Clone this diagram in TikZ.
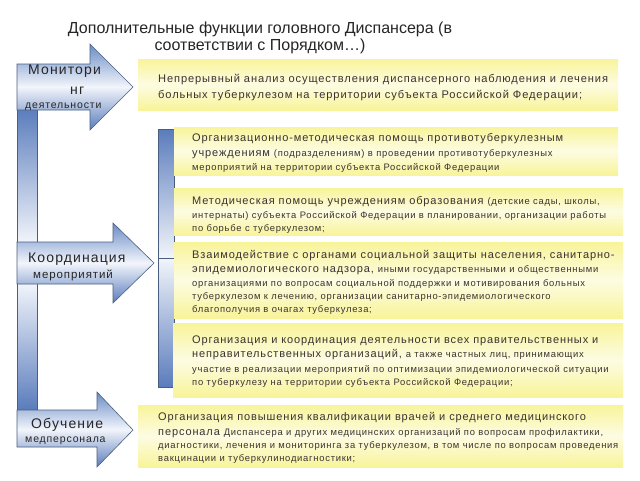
\documentclass[tikz,border=0pt]{standalone}
\usepackage{fontspec}
\setmainfont{Liberation Sans}
\newfontfamily\trk[LetterSpace=8]{Liberation Sans}
\definecolor{txt}{HTML}{3A3232}
\definecolor{ttl}{HTML}{262626}
\definecolor{ablue}{HTML}{6A8CC6}
\definecolor{ablue2}{HTML}{5A7CBC}
\definecolor{alight}{HTML}{F2F5FB}
\definecolor{aedge}{HTML}{4A5F80}
\definecolor{ybox}{HTML}{F8F49A}
\definecolor{ylight}{HTML}{FDFCE2}
\newcommand\fL{\trk\fontsize{11}{13}\selectfont}
\newcommand\fM{\trk\fontsize{11.1}{13}\selectfont}
\newcommand\fS{\trk\fontsize{9.4}{11}\selectfont}
\begin{document}
\begin{tikzpicture}[x=1pt,y=-1pt,
  ln/.style={anchor=base west,inner sep=0pt,text=txt},
  arrtxt/.style={anchor=base west,inner sep=0pt,text=ttl},
  ybar/.style={top color=ybox,bottom color=ybox,middle color=ylight,draw=none},
  arr/.style={top color=ablue,bottom color=ablue2,middle color=alight,draw=aedge,line width=0.6pt},
  barup/.style={top color=ablue2,bottom color=alight,draw=aedge,line width=0.5pt},
  bardn/.style={top color=alight,bottom color=ablue2,draw=aedge,line width=0.5pt}]
\useasboundingbox (0,0) rectangle (640,480);
\fill[white] (0,0) rectangle (640,480);
% title
\node[anchor=base,inner sep=0pt,text=ttl,font=\fontsize{16}{18}\selectfont] (t1) at (260,33) {Дополнительные функции головного Диспансера (в};
\node[anchor=base,inner sep=0pt,text=ttl,font=\fontsize{16}{18}\selectfont] (t2) at (260,50) {соответствии с Порядком…)};
% left bars
\shade[barup] (17,108) rectangle (37,243);
\shade[bardn] (17,283) rectangle (37,410);
% right bars
\shade[barup] (158,129) rectangle (174,258);
\shade[bardn] (158,258) rectangle (174,387);
% yellow boxes
\shade[ybar] (138,59) rectangle (618,110);
\shade[ybar] (174,127) rectangle (618,175);
\shade[ybar] (174,188) rectangle (623,235);
\shade[ybar] (174,242) rectangle (623,318);
\shade[ybar] (173,323) rectangle (623,397);
\shade[ybar] (138,405) rectangle (623,467);
% arrows
\shadedraw[arr] (17,64) -- (90,64) -- (90,44) -- (133,87) -- (90,130) -- (90,110) -- (17,110) -- cycle;
\shadedraw[arr] (17,242) -- (113,242) -- (113,223) -- (154,263) -- (113,303) -- (113,284) -- (17,284) -- cycle;
\shadedraw[arr] (17,410) -- (97,410) -- (97,392) -- (133,430) -- (97,467) -- (97,447) -- (17,447) -- cycle;
% arrow texts
\node[arrtxt,font=\trk\fontsize{14}{16}\selectfont] (m1) at (28,74) {Монитори};
\node[arrtxt,font=\trk\fontsize{14}{16}\selectfont] (m2) at (70,94) {нг};
\node[arrtxt,font=\trk\fontsize{10.5}{12}\selectfont] (m3) at (25,108) {деятельности};
\node[arrtxt,font=\trk\fontsize{14}{16}\selectfont] (k1) at (28,262) {Координация};
\node[arrtxt,font=\trk\fontsize{11.5}{13}\selectfont] (k2) at (33,278) {мероприятий};
\node[arrtxt,font=\trk\fontsize{14}{16}\selectfont] (o1) at (31,428) {Обучение};
\node[arrtxt,font=\trk\fontsize{10.5}{12}\selectfont] (o2) at (25,442) {медперсонала};
% box 1
\node[ln,font=\fM] (a1) at (158,82) {Непрерывный анализ осуществления диспансерного наблюдения и лечения};
\node[ln,font=\fM] (a2) at (158,98) {больных туберкулезом на территории субъекта Российской Федерации;};
% box 2
\node[ln,font=\fL] (b1) at (192,141) {Организационно-методическая помощь противотуберкулезным};
\node[ln] (b2) at (192,156) {\fL учреждениям \fS(подразделениям) в проведении противотуберкулезных};
\node[ln,font=\fS] (b3) at (192,170) {мероприятий на территории субъекта Российской Федерации};
% box 3
\node[ln] (c1) at (192,204) {\fL Методическая помощь учреждениям образования \fS(детские сады, школы,};
\node[ln,font=\fS] (c2) at (192,218) {интернаты) субъекта Российской Федерации в планировании, организации работы};
\node[ln,font=\fS] (c3) at (192,231) {по борьбе с туберкулезом;};
% box 4
\node[ln,font=\fL] (d1) at (192,258) {Взаимодействие с органами социальной защиты населения, санитарно-};
\node[ln] (d2) at (192,272) {\fL эпидемиологического надзора, \fS иными государственными и общественными};
\node[ln,font=\fS] (d3) at (192,286) {организациями по вопросам социальной поддержки и мотивирования больных};
\node[ln,font=\fS] (d4) at (192,299) {туберкулезом к лечению, организации санитарно-эпидемиологического};
\node[ln,font=\fS] (d5) at (192,312) {благополучия в очагах туберкулеза;};
% box 5
\node[ln,font=\fL] (e1) at (192,343) {Организация и координация деятельности всех правительственных и};
\node[ln] (e2) at (192,357) {\fL неправительственных организаций, \fS а также частных лиц, принимающих};
\node[ln,font=\fS] (e3) at (192,372) {участие в реализации мероприятий по оптимизации эпидемиологической ситуации};
\node[ln,font=\fS] (e4) at (192,385) {по туберкулезу на территории субъекта Российской Федерации;};
% box 6
\node[ln,font=\fL] (f1) at (158,420) {Организация повышения квалификации врачей и среднего медицинского};
\node[ln] (f2) at (158,435) {\fL персонала \fS Диспансера и других медицинских организаций по вопросам профилактики,};
\node[ln,font=\fS] (f3) at (158,448) {диагностики, лечения и мониторинга за туберкулезом, в том числе по вопросам проведения};
\node[ln,font=\fS] (f4) at (158,461) {вакцинации и туберкулинодиагностики;};
\end{tikzpicture}
\end{document}
